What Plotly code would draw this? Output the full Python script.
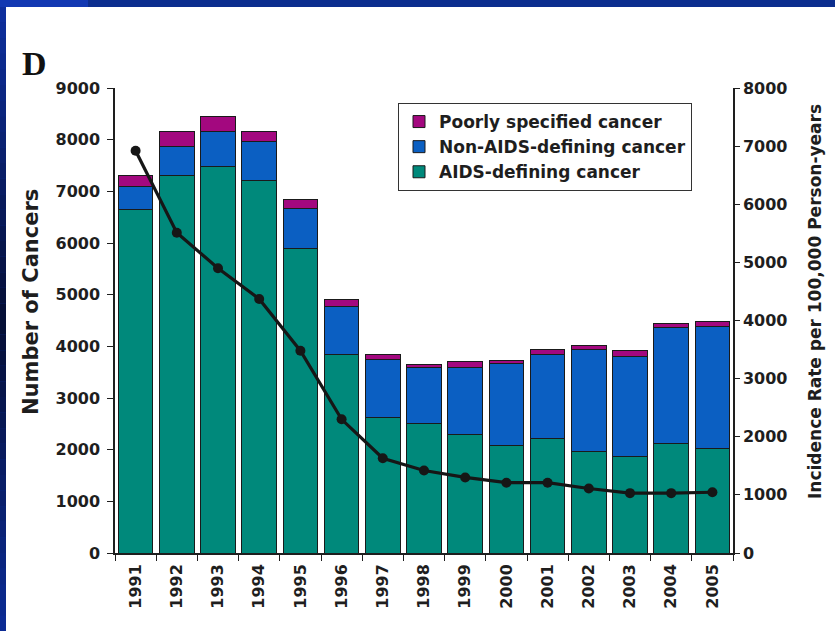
import plotly.graph_objects as go

# Cancer counts by year, stacked by category, with the incidence rate on a second axis
years = ["1991", "1992", "1993", "1994", "1995", "1996", "1997", "1998",
         "1999", "2000", "2001", "2002", "2003", "2004", "2005"]
aids_defining = [6640, 7300, 7480, 7210, 5900, 3850, 2620, 2510,
                 2300, 2080, 2210, 1960, 1860, 2120, 2030]
non_aids_defining = [450, 565, 670, 750, 770, 920, 1125, 1075,
                     1290, 1580, 1625, 1970, 1940, 2250, 2360]
poorly_specified = [220, 290, 290, 195, 180, 130, 95, 65,
                    115, 65, 95, 95, 115, 80, 90]
incidence_rate = [6920, 5510, 4900, 4370, 3480, 2300, 1630, 1420,
                  1300, 1210, 1210, 1110, 1030, 1030, 1045]

W, H = 835, 631
ML, MR, MT, MB = 115, 102, 88, 78
PW, PH = W - ML - MR, H - MT - MB


def px(x):
    return (x - ML) / PW


def py(y):
    return (H - MB - y) / PH


FONT = "DejaVu Sans, Verdana, sans-serif"
INK = "#1e1e1e"

fig = go.Figure()
outline = dict(color="#1a1a1a", width=1)
fig.add_trace(go.Bar(x=years, y=aids_defining, name="AIDS-defining cancer",
                     marker=dict(color="#00897b", line=outline)))
fig.add_trace(go.Bar(x=years, y=non_aids_defining, name="Non-AIDS-defining cancer",
                     marker=dict(color="#0b5fc2", line=outline)))
fig.add_trace(go.Bar(x=years, y=poorly_specified, name="Poorly specified cancer",
                     marker=dict(color="#a3087f", line=outline)))
fig.add_trace(go.Scatter(x=years, y=incidence_rate, yaxis="y2", mode="lines+markers",
                         showlegend=False,
                         line=dict(color="#161616", width=3.2),
                         marker=dict(color="#161616", size=10)))

# Frame: blue slide border with a white panel
shapes = [
    dict(type="rect", xref="paper", yref="paper", layer="below",
         x0=px(6), x1=px(W), y0=py(H), y1=py(7),
         fillcolor="white", line=dict(width=0)),
    dict(type="rect", xref="paper", yref="paper", layer="below",
         x0=px(0), x1=px(88), y0=py(7), y1=py(0),
         fillcolor="#1238b2", line=dict(width=0)),
]


def mix(c1, c2, t):
    return "#%02x%02x%02x" % tuple(round(a + (b - a) * t) for a, b in zip(c1, c2))


top_c, mid_c, bot_c = (14, 48, 160), (5, 14, 52), (12, 44, 150)
n = 40
for i in range(n):
    y0, y1 = 7 + (H - 7) * i / n, 7 + (H - 7) * (i + 1) / n
    f = (i + 0.5) / n
    c = mix(top_c, mid_c, f / 0.5) if f < 0.5 else mix(mid_c, bot_c, (f - 0.5) / 0.5)
    shapes.append(dict(type="rect", xref="paper", yref="paper", layer="below",
                       x0=px(0), x1=px(6), y0=py(y1), y1=py(y0),
                       fillcolor=c, line=dict(width=0)))

annotations = [
    dict(text="<b>D</b>", xref="paper", yref="paper", x=px(20), y=py(63),
         xanchor="left", yanchor="middle", showarrow=False,
         font=dict(family="Liberation Serif, Times New Roman, serif", size=34, color="#111")),
    dict(text="<b>Number of Cancers</b>", xref="paper", yref="paper", x=px(31), y=py(302),
         xanchor="center", yanchor="middle", textangle=-90, showarrow=False,
         font=dict(family=FONT, size=21, color=INK)),
    dict(text="<b>Incidence Rate per 100,000 Person-years</b>", xref="paper", yref="paper",
         x=px(815), y=py(302), xanchor="center", yanchor="middle", textangle=-90,
         showarrow=False, font=dict(family=FONT, size=17, color=INK)),
]

tick_font = dict(family=FONT, size=16, color=INK, weight="bold")
axis_common = dict(showline=True, linecolor=INK, linewidth=1.5, ticks="outside",
                   tickcolor=INK, ticklen=6, showgrid=False, zeroline=False,
                   tickfont=tick_font)

fig.update_layout(
    width=W, height=H,
    margin=dict(l=ML, r=MR, t=MT, b=MB, pad=0),
    paper_bgcolor="#0b2d8e", plot_bgcolor="white",
    barmode="stack", bargap=0.16,
    font=dict(family=FONT, color=INK),
    xaxis=dict(axis_common, type="category", range=[-0.5, 14.5], tickangle=-90,
               tickson="boundaries", ticklabelstandoff=3),
    yaxis=dict(axis_common, range=[0, 9000], dtick=1000, ticklabelstandoff=4),
    yaxis2=dict(axis_common, range=[0, 8000], dtick=1000, overlaying="y", side="right",
                ticklen=5),
    legend=dict(x=px(398), y=py(103), xanchor="left", yanchor="top",
                bgcolor="white", bordercolor="#333", borderwidth=1,
                traceorder="reversed", itemwidth=30, tracegroupgap=0,
                font=dict(family=FONT, size=17, color=INK, weight="bold")),
    shapes=shapes, annotations=annotations,
)

fig.write_html("out.html")
